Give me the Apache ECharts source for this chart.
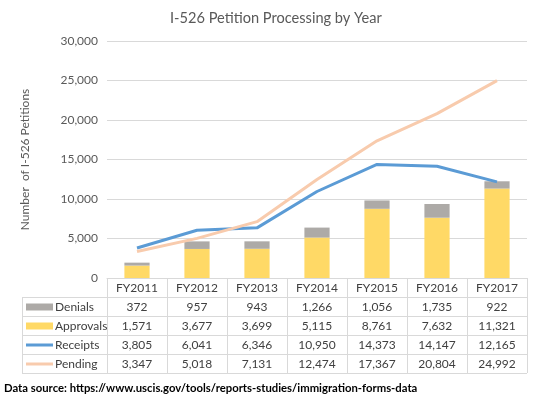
<!DOCTYPE html>
<html>
<head>
<meta charset="utf-8">
<script src="https://cdn.jsdelivr.net/npm/echarts@6/dist/echarts.min.js"></script>
<style>
html, body { margin: 0; padding: 0; background: #fff; }
#main { width: 541px; height: 396px; }
</style>
</head>
<body>
<div id="main"></div>
<script>
// data
const years = ['FY2011', 'FY2012', 'FY2013', 'FY2014', 'FY2015', 'FY2016', 'FY2017'];
const denials = [372, 957, 943, 1266, 1056, 1735, 922];
const approvals = [1571, 3677, 3699, 5115, 8761, 7632, 11321];
const receipts = [3805, 6041, 6346, 10950, 14373, 14147, 12165];
const pending = [3347, 5018, 7131, 12474, 17367, 20804, 24992];
const yMax = 30000;
const yStep = 5000;

const FONT = 'Lato, "Open Sans", sans-serif';
const GREY = '#ADAAA7', YELLOW = '#FFD966', BLUE = '#5B9BD5', ORANGE = '#F8CBAD';
const LINE = '#D9D9D9', TXT = '#404040';

const chart = echarts.init(document.getElementById('main'));

chart.setOption({
    animation: false,
    title: {
        text: 'I-526 Petition Processing by Year',
        left: 165,
        top: 6,
        textStyle: { fontFamily: FONT, fontSize: 14.6, fontWeight: 'normal', color: '#595959' }
    },
    grid: { left: 107, right: 14, top: 41, bottom: 118 },
    xAxis: {
        type: 'category',
        data: years,
        axisLine: { lineStyle: { color: LINE } },
        axisTick: { show: false },
        axisLabel: { show: false }
    },
    yAxis: {
        type: 'value',
        min: 0,
        max: yMax,
        interval: yStep,
        name: 'Number  of I-526 Petitions',
        nameLocation: 'middle',
        nameGap: 76,
        nameTextStyle: { fontFamily: FONT, fontSize: 12, color: '#595959' },
        axisLabel: {
            margin: 9,
            fontFamily: FONT,
            fontSize: 12,
            color: '#595959',
            formatter: v => v.toLocaleString('en-US')
        },
        splitLine: { lineStyle: { color: LINE } }
    },
    series: [
        {
            name: 'Approvals', type: 'bar', stack: 'done', data: approvals,
            barWidth: '42%', itemStyle: { color: YELLOW }
        },
        {
            name: 'Denials', type: 'bar', stack: 'done', data: denials,
            barWidth: '42%', itemStyle: { color: GREY }
        },
        {
            name: 'Receipts', type: 'line', data: receipts,
            showSymbol: false, lineStyle: { color: BLUE, width: 3 }, z: 3
        },
        {
            name: 'Pending', type: 'line', data: pending,
            showSymbol: false, lineStyle: { color: ORANGE, width: 3 }, z: 3
        }
    ]
});

// data table under the plot, laid out from the category axis
const rows = [
    { name: 'Denials', values: denials, color: GREY, key: 'box' },
    { name: 'Approvals', values: approvals, color: YELLOW, key: 'box' },
    { name: 'Receipts', values: receipts, color: BLUE, key: 'line' },
    { name: 'Pending', values: pending, color: ORANGE, key: 'line' }
];

const x0 = chart.convertToPixel({ xAxisIndex: 0 }, years[0]);
const x1 = chart.convertToPixel({ xAxisIndex: 0 }, years[1]);
const band = x1 - x0;
const tableLeft = x0 - band / 2;
const tableRight = tableLeft + band * years.length;
const labelLeft = 22;
const axisY = chart.convertToPixel({ yAxisIndex: 0 }, 0);
const rowH = 19;

const g = [];
function hline(y, xa, xb) {
    g.push({ type: 'line', shape: { x1: xa, y1: y, x2: xb, y2: y }, style: { stroke: LINE, lineWidth: 1 }, silent: true });
}
function vline(x, ya, yb) {
    g.push({ type: 'line', shape: { x1: x, y1: ya, x2: x, y2: yb }, style: { stroke: LINE, lineWidth: 1 }, silent: true });
}
function text(str, x, y, align) {
    g.push({
        type: 'text', x: x, y: y, silent: true,
        style: { text: str, fill: TXT, font: '12px ' + FONT, textAlign: align, textVerticalAlign: 'middle' }
    });
}

const tableBottom = axisY + rowH * (rows.length + 1);
// header row
years.forEach((y, j) => text(y, tableLeft + band * (j + 0.5), axisY + rowH / 2 + 1, 'center'));
for (let j = 0; j <= years.length; j++) vline(Math.round(tableLeft + band * j) + 0.5, axisY, tableBottom);
vline(labelLeft + 0.5, axisY + rowH, tableBottom);
for (let i = 1; i <= rows.length + 1; i++) hline(Math.round(axisY + rowH * i) + 0.5, labelLeft, tableRight);

rows.forEach((r, i) => {
    const cy = axisY + rowH * (i + 1.5);
    if (r.key === 'box') {
        g.push({ type: 'rect', shape: { x: 26, y: cy - 3, width: 27, height: 7 }, style: { fill: r.color }, silent: true });
    } else {
        g.push({ type: 'line', shape: { x1: 26, y1: cy + 0.5, x2: 53, y2: cy + 0.5 }, style: { stroke: r.color, lineWidth: 3 }, silent: true });
    }
    text(r.name, 55, cy + 1, 'left');
    r.values.forEach((v, j) => text(v.toLocaleString('en-US'), tableLeft + band * (j + 0.5), cy + 1, 'center'));
});

g.push({
    type: 'text', x: 4, y: 388, silent: true,
    style: {
        text: 'Data source: https://www.uscis.gov/tools/reports-studies/immigration-forms-data',
        fill: '#000', font: 'bold 11.3px ' + FONT, textAlign: 'left', textVerticalAlign: 'middle'
    }
});

chart.setOption({ graphic: g });
</script>
</body>
</html>
